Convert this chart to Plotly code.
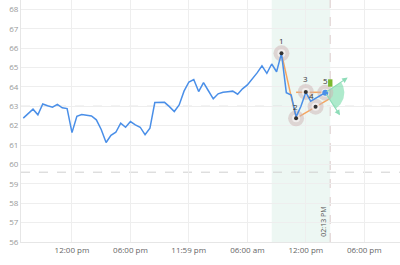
import numpy as np
import pandas as pd
import plotly.graph_objects as go

# ---------------- data ----------------
series_start = "2024-03-04 07:00"
series_step_min = 30
price = [62.39, 62.62, 62.85, 62.56, 63.12, 63.03, 62.95, 63.10, 62.92, 62.88,
         61.64, 62.48, 62.57, 62.54, 62.50, 62.30, 61.80, 61.13, 61.50, 61.66,
         62.13, 61.92, 62.21, 62.04, 61.92, 61.53, 61.87, 63.19, 63.21, 63.20,
         62.98, 62.73, 63.07, 63.78, 64.25, 64.38, 63.76, 64.22, 63.80, 63.38,
         63.64, 63.72, 63.75, 63.78, 63.62, 63.90, 64.10, 64.40, 64.72, 65.08,
         64.70, 65.18, 64.78, 65.73, 63.70, 63.58, 62.45, 63.00, 63.72, 63.26,
         63.40, 63.55, 63.70]

pattern_labels = ["1", "2", "3", "4", "5"]
pattern_times = ["2024-03-05 09:30", "2024-03-05 11:00", "2024-03-05 12:00",
                 "2024-03-05 13:00", "2024-03-05 14:00"]
pattern_values = [65.73, 62.38, 63.74, 62.98, 63.70]

orange_leg_times = ["2024-03-05 09:30", "2024-03-05 11:00", "2024-03-05 14:30"]
orange_leg_values = [65.73, 62.38, 63.41]
orange_level_times = ["2024-03-05 11:00", "2024-03-05 14:00"]
orange_level_values = [63.72, 63.72]

green_bar_times = ["2024-03-05 14:17", "2024-03-05 14:44"]
green_bar_values = [64.01, 64.39]

ref_levels = [63.0, 59.6]
zone_times = ["2024-03-05 08:30", "2024-03-05 14:30"]
marker_time = "2024-03-05 14:30"
marker_label = "02:13 PM"

tick_times = ["2024-03-04 12:00", "2024-03-04 18:00", "2024-03-04 23:59",
              "2024-03-05 06:00", "2024-03-05 12:00", "2024-03-05 18:00"]
tick_text = ["12:00 pm", "06:00 pm", "11:59 pm", "06:00 am", "12:00 pm", "06:00 pm"]
x_range = ["2024-03-04 06:46", "2024-03-05 21:40"]
y_range = [56, 68.48]
y_ticks = list(range(56, 69))

# ---------------- figure ----------------
times = pd.date_range(series_start, periods=len(price), freq=f"{series_step_min}min")

W, H = 400, 265
ml, mr, mt, mb = 21, 0, 0, 23
pw, ph = W - ml - mr, H - mt - mb
x0t, x1t = pd.Timestamp(x_range[0]), pd.Timestamp(x_range[1])
px_per_hour = pw / ((x1t - x0t).total_seconds() / 3600)
px_per_unit = ph / (y_range[1] - y_range[0])

def offset(t, v, dxpx, dypx_up):
    t2 = pd.Timestamp(t) + pd.Timedelta(hours=dxpx / px_per_hour)
    return t2, v + dypx_up / px_per_unit

fig = go.Figure()

# orange pattern lines
fig.add_trace(go.Scatter(x=orange_level_times, y=orange_level_values, mode="lines",
                         line=dict(color="#f6a55e", width=1.5), hoverinfo="skip"))
fig.add_trace(go.Scatter(x=orange_leg_times, y=orange_leg_values, mode="lines",
                         line=dict(color="#f6a55e", width=1.5), hoverinfo="skip"))

# wedge
c_t, c_v = pattern_times[4], pattern_values[4]
angles = np.linspace(np.deg2rad(-57), np.deg2rad(34), 30)
r = 19
wx, wy = [pd.Timestamp(c_t)], [c_v]
for a in angles:
    t2, v2 = offset(c_t, c_v, r * np.cos(a), r * np.sin(a))
    wx.append(t2); wy.append(v2)
wx.append(pd.Timestamp(c_t)); wy.append(c_v)
fig.add_trace(go.Scatter(x=wx, y=wy, mode="lines", fill="toself",
                         fillcolor="rgba(120,220,170,0.6)", line=dict(width=0),
                         hoverinfo="skip"))

# halos
fig.add_trace(go.Scatter(x=pattern_times, y=pattern_values, mode="markers",
                         marker=dict(size=16, color="rgba(205,180,180,0.5)"),
                         hoverinfo="skip"))
fig.add_trace(go.Scatter(x=pattern_times, y=pattern_values, mode="markers",
                         marker=dict(size=8, color="rgba(255,255,255,0.6)"),
                         hoverinfo="skip"))

# main line
fig.add_trace(go.Scatter(x=times, y=price, mode="lines",
                         line=dict(color="#4a8fe8", width=1.5), hoverinfo="skip"))

# point centers
fig.add_trace(go.Scatter(x=pattern_times[:4], y=pattern_values[:4], mode="markers",
                         marker=dict(size=4, color="#333333"), hoverinfo="skip"))
fig.add_trace(go.Scatter(x=pattern_times[4:], y=pattern_values[4:], mode="markers",
                         marker=dict(size=6, color="#4a8fe8"), hoverinfo="skip"))

shapes = []
shapes.append(dict(type="rect", xref="x", yref="paper", x0=zone_times[0], x1=zone_times[1],
                   y0=0, y1=1, fillcolor="rgba(60,170,120,0.09)", line=dict(width=0),
                   layer="below"))
for lv in ref_levels:
    shapes.append(dict(type="line", xref="paper", yref="y", x0=0, x1=1, y0=lv, y1=lv,
                       line=dict(color="#cfcfcf", width=1, dash="dash"), layer="below"))
shapes.append(dict(type="line", xref="x", yref="paper", x0=marker_time, x1=marker_time,
                   y0=0, y1=1, line=dict(color="#dccaca", width=1, dash="dash"),
                   layer="below"))
shapes.append(dict(type="rect", xref="x", yref="y", x0=green_bar_times[0],
                   x1=green_bar_times[1], y0=green_bar_values[0], y1=green_bar_values[1],
                   fillcolor="#7cb82f", line=dict(width=0)))

annotations = []
label_off = [(0, 13), (-1, 12), (0, 13), (-4, 11), (0, 12)]
for lab, t, v, (dx, dy) in zip(pattern_labels, pattern_times, pattern_values, label_off):
    annotations.append(dict(x=t, y=v, text=lab, showarrow=False, xshift=dx, yshift=dy,
                            font=dict(size=8, color="#333333")))
for ang, ln in [(34, 27), (-57, 27)]:
    ht, hv = offset(c_t, c_v, ln * np.cos(np.deg2rad(ang)), ln * np.sin(np.deg2rad(ang)))
    annotations.append(dict(x=ht, y=hv, ax=c_t, ay=c_v, axref="x", ayref="y",
                            xref="x", yref="y", showarrow=True, arrowhead=2,
                            arrowsize=1, arrowwidth=1.1, arrowcolor="#8ddcb8", text=""))
annotations.append(dict(x=marker_time, y=y_range[0], text=marker_label, textangle=-90,
                        showarrow=False, xanchor="right", yanchor="bottom",
                        xshift=-1, yshift=3, font=dict(size=7, color="#555555")))

fig.update_layout(
    width=W, height=H, margin=dict(l=ml, r=mr, t=mt, b=mb),
    paper_bgcolor="white", plot_bgcolor="white", showlegend=False,
    font=dict(family="Open Sans, DejaVu Sans, sans-serif", size=8, color="#888888"),
    shapes=shapes, annotations=annotations,
    xaxis=dict(range=x_range, tickvals=tick_times, ticktext=tick_text,
               showgrid=True, gridcolor="#eeeeee", gridwidth=1, zeroline=False,
               showline=True, linecolor="#e6e6e6", ticks="",
               tickfont=dict(size=8, color="#666666")),
    yaxis=dict(range=y_range, tickvals=y_ticks, showgrid=True, gridcolor="#eeeeee",
               zeroline=False, showline=True, linecolor="#e6e6e6", ticks="",
               tickfont=dict(size=8, color="#999999")),
)

fig.write_html("out.html")
